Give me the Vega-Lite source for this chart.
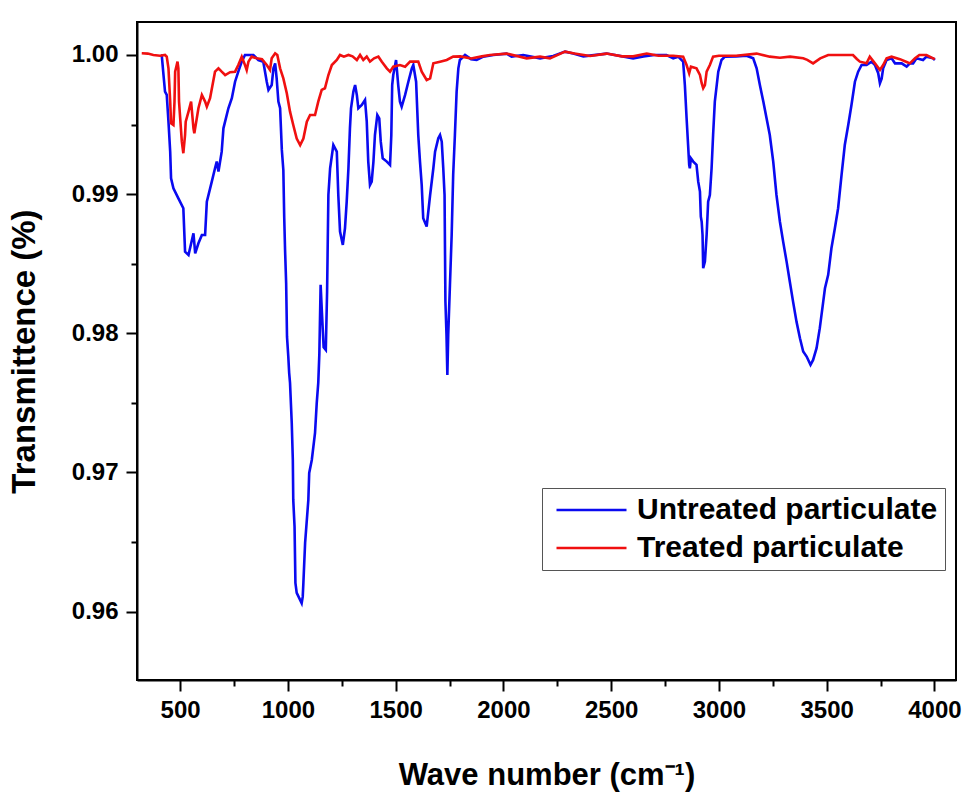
{
  "$schema": "https://vega.github.io/schema/vega-lite/v6.json",
  "width": 819,
  "height": 658,
  "autosize": {"type": "none"},
  "padding": {"left": 137, "top": 22, "right": 9, "bottom": 117},
  "background": "white",
  "config": {
    "view": {"stroke": "black", "strokeWidth": 2},
    "font": "Liberation Sans"
  },
  "data": {"values": [
{"s":"U","wn":410,"tr":1.0000},{"s":"U","wn":415,"tr":0.99995},{"s":"U","wn":423,"tr":0.99856},{"s":"U","wn":430,"tr":0.99737},{"s":"U","wn":438,"tr":0.99713},{"s":"U","wn":446,"tr":0.99521},{"s":"U","wn":454,"tr":0.99305},{"s":"U","wn":458,"tr":0.99114},{"s":"U","wn":469,"tr":0.99042},{"s":"U","wn":492,"tr":0.98970},{"s":"U","wn":515,"tr":0.98899},{"s":"U","wn":523,"tr":0.98587},{"s":"U","wn":539,"tr":0.98563},{"s":"U","wn":562,"tr":0.98719},{"s":"U","wn":570,"tr":0.98575},{"s":"U","wn":585,"tr":0.98647},{"s":"U","wn":601,"tr":0.98707},{"s":"U","wn":616,"tr":0.98707},{"s":"U","wn":624,"tr":0.98946},{"s":"U","wn":647,"tr":0.99090},{"s":"U","wn":662,"tr":0.99186},{"s":"U","wn":670,"tr":0.99234},{"s":"U","wn":678,"tr":0.99162},{"s":"U","wn":693,"tr":0.99305},{"s":"U","wn":701,"tr":0.99473},{"s":"U","wn":724,"tr":0.99617},{"s":"U","wn":740,"tr":0.99689},{"s":"U","wn":755,"tr":0.99808},{"s":"U","wn":770,"tr":0.99880},{"s":"U","wn":786,"tr":0.99952},{"s":"U","wn":801,"tr":1.0000},{"s":"U","wn":840,"tr":1.0000},{"s":"U","wn":863,"tr":0.99964},{"s":"U","wn":886,"tr":0.99952},{"s":"U","wn":902,"tr":0.99808},{"s":"U","wn":910,"tr":0.99749},{"s":"U","wn":925,"tr":0.99784},{"s":"U","wn":933,"tr":0.99904},{"s":"U","wn":941,"tr":0.99940},{"s":"U","wn":948,"tr":0.99832},{"s":"U","wn":956,"tr":0.99665},{"s":"U","wn":964,"tr":0.99617},{"s":"U","wn":972,"tr":0.99318},{"s":"U","wn":979,"tr":0.99174},{"s":"U","wn":983,"tr":0.98838},{"s":"U","wn":987,"tr":0.98599},{"s":"U","wn":992,"tr":0.98362},{"s":"U","wn":996,"tr":0.97976},{"s":"U","wn":1002,"tr":0.97833},{"s":"U","wn":1006,"tr":0.97716},{"s":"U","wn":1010,"tr":0.97644},{"s":"U","wn":1018,"tr":0.97356},{"s":"U","wn":1023,"tr":0.97090},{"s":"U","wn":1025,"tr":0.96803},{"s":"U","wn":1031,"tr":0.96611},{"s":"U","wn":1035,"tr":0.96207},{"s":"U","wn":1041,"tr":0.96135},{"s":"U","wn":1064,"tr":0.96061},{"s":"U","wn":1069,"tr":0.96108},{"s":"U","wn":1072,"tr":0.96207},{"s":"U","wn":1080,"tr":0.96494},{"s":"U","wn":1095,"tr":0.96803},{"s":"U","wn":1099,"tr":0.96997},{"s":"U","wn":1111,"tr":0.97090},{"s":"U","wn":1126,"tr":0.97284},{"s":"U","wn":1134,"tr":0.97500},{"s":"U","wn":1141,"tr":0.97644},{"s":"U","wn":1146,"tr":0.97850},{"s":"U","wn":1152,"tr":0.98348},{"s":"U","wn":1158,"tr":0.98150},{"s":"U","wn":1166,"tr":0.97900},{"s":"U","wn":1176,"tr":0.97881},{"s":"U","wn":1182,"tr":0.98300},{"s":"U","wn":1188,"tr":0.98994},{"s":"U","wn":1196,"tr":0.99186},{"s":"U","wn":1211,"tr":0.99353},{"s":"U","wn":1227,"tr":0.99305},{"s":"U","wn":1234,"tr":0.98994},{"s":"U","wn":1242,"tr":0.98731},{"s":"U","wn":1255,"tr":0.98635},{"s":"U","wn":1265,"tr":0.98755},{"s":"U","wn":1273,"tr":0.98946},{"s":"U","wn":1281,"tr":0.99186},{"s":"U","wn":1288,"tr":0.99473},{"s":"U","wn":1293,"tr":0.99617},{"s":"U","wn":1304,"tr":0.99737},{"s":"U","wn":1312,"tr":0.99784},{"s":"U","wn":1320,"tr":0.99713},{"s":"U","wn":1327,"tr":0.99617},{"s":"U","wn":1343,"tr":0.99641},{"s":"U","wn":1358,"tr":0.99677},{"s":"U","wn":1366,"tr":0.99521},{"s":"U","wn":1373,"tr":0.99234},{"s":"U","wn":1381,"tr":0.99066},{"s":"U","wn":1389,"tr":0.99090},{"s":"U","wn":1397,"tr":0.99234},{"s":"U","wn":1404,"tr":0.99425},{"s":"U","wn":1415,"tr":0.99569},{"s":"U","wn":1424,"tr":0.99545},{"s":"U","wn":1431,"tr":0.99377},{"s":"U","wn":1440,"tr":0.99258},{"s":"U","wn":1459,"tr":0.99234},{"s":"U","wn":1474,"tr":0.99210},{"s":"U","wn":1480,"tr":0.99425},{"s":"U","wn":1484,"tr":0.99784},{"s":"U","wn":1489,"tr":0.99856},{"s":"U","wn":1502,"tr":0.99964},{"s":"U","wn":1512,"tr":0.99784},{"s":"U","wn":1520,"tr":0.99665},{"s":"U","wn":1528,"tr":0.99629},{"s":"U","wn":1544,"tr":0.99713},{"s":"U","wn":1559,"tr":0.99808},{"s":"U","wn":1575,"tr":0.99904},{"s":"U","wn":1582,"tr":0.99928},{"s":"U","wn":1595,"tr":0.99808},{"s":"U","wn":1605,"tr":0.99425},{"s":"U","wn":1613,"tr":0.99234},{"s":"U","wn":1621,"tr":0.99066},{"s":"U","wn":1628,"tr":0.98827},{"s":"U","wn":1644,"tr":0.98767},{"s":"U","wn":1660,"tr":0.98994},{"s":"U","wn":1675,"tr":0.99186},{"s":"U","wn":1683,"tr":0.99305},{"s":"U","wn":1698,"tr":0.99402},{"s":"U","wn":1706,"tr":0.99425},{"s":"U","wn":1714,"tr":0.99377},{"s":"U","wn":1721,"tr":0.99186},{"s":"U","wn":1727,"tr":0.98994},{"s":"U","wn":1731,"tr":0.98228},{"s":"U","wn":1736,"tr":0.97988},{"s":"U","wn":1740,"tr":0.97701},{"s":"U","wn":1744,"tr":0.97988},{"s":"U","wn":1752,"tr":0.98348},{"s":"U","wn":1760,"tr":0.98707},{"s":"U","wn":1767,"tr":0.99138},{"s":"U","wn":1775,"tr":0.99425},{"s":"U","wn":1783,"tr":0.99737},{"s":"U","wn":1791,"tr":0.99904},{"s":"U","wn":1798,"tr":0.99964},{"s":"U","wn":1822,"tr":1.0000},{"s":"U","wn":1850,"tr":0.99970},{"s":"U","wn":1876,"tr":0.99964},{"s":"U","wn":1907,"tr":0.99988},{"s":"U","wn":1953,"tr":1.0000},{"s":"U","wn":2015,"tr":1.0001},{"s":"U","wn":2038,"tr":0.99988},{"s":"U","wn":2092,"tr":1.0000},{"s":"U","wn":2170,"tr":0.99976},{"s":"U","wn":2231,"tr":0.99993},{"s":"U","wn":2286,"tr":1.00024},{"s":"U","wn":2324,"tr":1.00010},{"s":"U","wn":2371,"tr":0.99990},{"s":"U","wn":2479,"tr":1.00010},{"s":"U","wn":2602,"tr":0.99976},{"s":"U","wn":2650,"tr":0.99990},{"s":"U","wn":2700,"tr":1.0000},{"s":"U","wn":2757,"tr":1.0000},{"s":"U","wn":2788,"tr":0.99976},{"s":"U","wn":2811,"tr":0.99988},{"s":"U","wn":2834,"tr":0.99952},{"s":"U","wn":2842,"tr":0.99784},{"s":"U","wn":2850,"tr":0.99545},{"s":"U","wn":2857,"tr":0.99353},{"s":"U","wn":2862,"tr":0.99210},{"s":"U","wn":2865,"tr":0.99186},{"s":"U","wn":2870,"tr":0.99258},{"s":"U","wn":2881,"tr":0.99234},{"s":"U","wn":2896,"tr":0.99210},{"s":"U","wn":2904,"tr":0.99090},{"s":"U","wn":2912,"tr":0.99018},{"s":"U","wn":2916,"tr":0.98838},{"s":"U","wn":2920,"tr":0.98802},{"s":"U","wn":2924,"tr":0.98707},{"s":"U","wn":2927,"tr":0.98468},{"s":"U","wn":2935,"tr":0.98515},{"s":"U","wn":2943,"tr":0.98707},{"s":"U","wn":2950,"tr":0.98946},{"s":"U","wn":2958,"tr":0.98994},{"s":"U","wn":2966,"tr":0.99186},{"s":"U","wn":2973,"tr":0.99425},{"s":"U","wn":2981,"tr":0.99665},{"s":"U","wn":2997,"tr":0.99880},{"s":"U","wn":3012,"tr":0.99964},{"s":"U","wn":3028,"tr":0.99988},{"s":"U","wn":3080,"tr":0.99990},{"s":"U","wn":3128,"tr":0.99995},{"s":"U","wn":3159,"tr":0.99976},{"s":"U","wn":3175,"tr":0.99904},{"s":"U","wn":3190,"tr":0.99784},{"s":"U","wn":3206,"tr":0.99665},{"s":"U","wn":3221,"tr":0.99545},{"s":"U","wn":3236,"tr":0.99425},{"s":"U","wn":3252,"tr":0.99234},{"s":"U","wn":3267,"tr":0.98994},{"s":"U","wn":3283,"tr":0.98802},{"s":"U","wn":3298,"tr":0.98659},{"s":"U","wn":3314,"tr":0.98515},{"s":"U","wn":3329,"tr":0.98371},{"s":"U","wn":3344,"tr":0.98228},{"s":"U","wn":3360,"tr":0.98084},{"s":"U","wn":3376,"tr":0.97965},{"s":"U","wn":3391,"tr":0.97869},{"s":"U","wn":3407,"tr":0.97833},{"s":"U","wn":3425,"tr":0.97773},{"s":"U","wn":3437,"tr":0.97809},{"s":"U","wn":3453,"tr":0.97893},{"s":"U","wn":3468,"tr":0.98037},{"s":"U","wn":3484,"tr":0.98228},{"s":"U","wn":3492,"tr":0.98324},{"s":"U","wn":3507,"tr":0.98420},{"s":"U","wn":3522,"tr":0.98611},{"s":"U","wn":3538,"tr":0.98755},{"s":"U","wn":3553,"tr":0.98899},{"s":"U","wn":3569,"tr":0.99138},{"s":"U","wn":3584,"tr":0.99353},{"s":"U","wn":3600,"tr":0.99497},{"s":"U","wn":3615,"tr":0.99641},{"s":"U","wn":3631,"tr":0.99808},{"s":"U","wn":3646,"tr":0.99880},{"s":"U","wn":3662,"tr":0.99928},{"s":"U","wn":3685,"tr":0.99928},{"s":"U","wn":3708,"tr":0.99952},{"s":"U","wn":3724,"tr":0.99928},{"s":"U","wn":3739,"tr":0.99869},{"s":"U","wn":3747,"tr":0.99797},{"s":"U","wn":3755,"tr":0.99830},{"s":"U","wn":3762,"tr":0.99904},{"s":"U","wn":3778,"tr":0.99964},{"s":"U","wn":3801,"tr":0.99976},{"s":"U","wn":3817,"tr":0.99940},{"s":"U","wn":3848,"tr":0.99940},{"s":"U","wn":3871,"tr":0.99916},{"s":"U","wn":3886,"tr":0.99940},{"s":"U","wn":3901,"tr":0.99940},{"s":"U","wn":3917,"tr":0.99976},{"s":"U","wn":3947,"tr":0.99964},{"s":"U","wn":3963,"tr":0.99988},{"s":"U","wn":3994,"tr":0.99976},{"s":"U","wn":4002,"tr":0.99964},
{"s":"T","wn":322,"tr":1.00012},{"s":"T","wn":350,"tr":1.00010},{"s":"T","wn":376,"tr":1.0000},{"s":"T","wn":407,"tr":0.99995},{"s":"T","wn":430,"tr":1.0000},{"s":"T","wn":438,"tr":0.99988},{"s":"T","wn":446,"tr":0.99904},{"s":"T","wn":454,"tr":0.99665},{"s":"T","wn":458,"tr":0.99509},{"s":"T","wn":469,"tr":0.99497},{"s":"T","wn":474,"tr":0.99665},{"s":"T","wn":477,"tr":0.99880},{"s":"T","wn":488,"tr":0.99952},{"s":"T","wn":492,"tr":0.99904},{"s":"T","wn":495,"tr":0.99665},{"s":"T","wn":508,"tr":0.99377},{"s":"T","wn":515,"tr":0.99294},{"s":"T","wn":523,"tr":0.99425},{"s":"T","wn":526,"tr":0.99521},{"s":"T","wn":539,"tr":0.99593},{"s":"T","wn":551,"tr":0.99665},{"s":"T","wn":562,"tr":0.99473},{"s":"T","wn":566,"tr":0.99437},{"s":"T","wn":585,"tr":0.99617},{"s":"T","wn":601,"tr":0.99713},{"s":"T","wn":616,"tr":0.99665},{"s":"T","wn":624,"tr":0.99629},{"s":"T","wn":639,"tr":0.99689},{"s":"T","wn":662,"tr":0.99880},{"s":"T","wn":678,"tr":0.99904},{"s":"T","wn":693,"tr":0.99880},{"s":"T","wn":709,"tr":0.99856},{"s":"T","wn":732,"tr":0.99876},{"s":"T","wn":755,"tr":0.99880},{"s":"T","wn":770,"tr":0.99928},{"s":"T","wn":786,"tr":0.99988},{"s":"T","wn":801,"tr":0.99928},{"s":"T","wn":809,"tr":0.99892},{"s":"T","wn":817,"tr":0.99952},{"s":"T","wn":832,"tr":0.99988},{"s":"T","wn":856,"tr":0.99976},{"s":"T","wn":880,"tr":0.99970},{"s":"T","wn":902,"tr":0.99928},{"s":"T","wn":917,"tr":0.99892},{"s":"T","wn":925,"tr":0.99976},{"s":"T","wn":941,"tr":1.00012},{"s":"T","wn":951,"tr":1.0000},{"s":"T","wn":964,"tr":0.99904},{"s":"T","wn":979,"tr":0.99832},{"s":"T","wn":995,"tr":0.99725},{"s":"T","wn":1010,"tr":0.99593},{"s":"T","wn":1025,"tr":0.99497},{"s":"T","wn":1041,"tr":0.99400},{"s":"T","wn":1057,"tr":0.99353},{"s":"T","wn":1072,"tr":0.99400},{"s":"T","wn":1088,"tr":0.99521},{"s":"T","wn":1103,"tr":0.99569},{"s":"T","wn":1126,"tr":0.99569},{"s":"T","wn":1141,"tr":0.99665},{"s":"T","wn":1157,"tr":0.99749},{"s":"T","wn":1172,"tr":0.99761},{"s":"T","wn":1188,"tr":0.99856},{"s":"T","wn":1204,"tr":0.99928},{"s":"T","wn":1227,"tr":0.99964},{"s":"T","wn":1242,"tr":1.0000},{"s":"T","wn":1260,"tr":0.99988},{"s":"T","wn":1281,"tr":1.0000},{"s":"T","wn":1300,"tr":0.99990},{"s":"T","wn":1320,"tr":0.99964},{"s":"T","wn":1335,"tr":1.0000},{"s":"T","wn":1350,"tr":0.99964},{"s":"T","wn":1366,"tr":0.99988},{"s":"T","wn":1381,"tr":0.99952},{"s":"T","wn":1400,"tr":0.99976},{"s":"T","wn":1420,"tr":0.99988},{"s":"T","wn":1436,"tr":0.99952},{"s":"T","wn":1459,"tr":0.99904},{"s":"T","wn":1474,"tr":0.99880},{"s":"T","wn":1489,"tr":0.99916},{"s":"T","wn":1520,"tr":0.99928},{"s":"T","wn":1544,"tr":0.99916},{"s":"T","wn":1567,"tr":0.99952},{"s":"T","wn":1605,"tr":0.99952},{"s":"T","wn":1621,"tr":0.99880},{"s":"T","wn":1644,"tr":0.99820},{"s":"T","wn":1660,"tr":0.99832},{"s":"T","wn":1675,"tr":0.99940},{"s":"T","wn":1706,"tr":0.99952},{"s":"T","wn":1737,"tr":0.99964},{"s":"T","wn":1767,"tr":0.99988},{"s":"T","wn":1800,"tr":0.99990},{"s":"T","wn":1850,"tr":0.99975},{"s":"T","wn":1900,"tr":0.99990},{"s":"T","wn":1938,"tr":1.0000},{"s":"T","wn":2015,"tr":1.0001},{"s":"T","wn":2108,"tr":0.99976},{"s":"T","wn":2170,"tr":0.99988},{"s":"T","wn":2216,"tr":0.99976},{"s":"T","wn":2286,"tr":1.00024},{"s":"T","wn":2330,"tr":1.0001},{"s":"T","wn":2402,"tr":0.99993},{"s":"T","wn":2479,"tr":1.0001},{"s":"T","wn":2550,"tr":0.99990},{"s":"T","wn":2602,"tr":0.99990},{"s":"T","wn":2665,"tr":1.0001},{"s":"T","wn":2720,"tr":0.99995},{"s":"T","wn":2788,"tr":0.99995},{"s":"T","wn":2834,"tr":0.99988},{"s":"T","wn":2850,"tr":0.99928},{"s":"T","wn":2862,"tr":0.99869},{"s":"T","wn":2870,"tr":0.99916},{"s":"T","wn":2896,"tr":0.99904},{"s":"T","wn":2912,"tr":0.99856},{"s":"T","wn":2920,"tr":0.99797},{"s":"T","wn":2927,"tr":0.99761},{"s":"T","wn":2935,"tr":0.99784},{"s":"T","wn":2943,"tr":0.99880},{"s":"T","wn":2958,"tr":0.99928},{"s":"T","wn":2973,"tr":0.99988},{"s":"T","wn":3000,"tr":0.99995},{"s":"T","wn":3080,"tr":0.99995},{"s":"T","wn":3175,"tr":1.0001},{"s":"T","wn":3236,"tr":0.99988},{"s":"T","wn":3283,"tr":0.99980},{"s":"T","wn":3330,"tr":0.99988},{"s":"T","wn":3391,"tr":0.99976},{"s":"T","wn":3410,"tr":0.99965},{"s":"T","wn":3437,"tr":0.99940},{"s":"T","wn":3470,"tr":0.99976},{"s":"T","wn":3507,"tr":1.0000},{"s":"T","wn":3550,"tr":1.0000},{"s":"T","wn":3622,"tr":1.0000},{"s":"T","wn":3640,"tr":0.99971},{"s":"T","wn":3654,"tr":0.99952},{"s":"T","wn":3685,"tr":0.99940},{"s":"T","wn":3700,"tr":0.99988},{"s":"T","wn":3724,"tr":0.99940},{"s":"T","wn":3747,"tr":0.99892},{"s":"T","wn":3762,"tr":0.99928},{"s":"T","wn":3778,"tr":0.99976},{"s":"T","wn":3801,"tr":0.99988},{"s":"T","wn":3840,"tr":0.99970},{"s":"T","wn":3871,"tr":0.99950},{"s":"T","wn":3886,"tr":0.99940},{"s":"T","wn":3910,"tr":0.99976},{"s":"T","wn":3930,"tr":1.0000},{"s":"T","wn":3963,"tr":1.0000},{"s":"T","wn":3994,"tr":0.99976},{"s":"T","wn":4002,"tr":0.99970}
  ]},
  "mark": {"type": "line", "strokeWidth": 2.6, "clip": true},
  "encoding": {
    "x": {
      "field": "wn", "type": "quantitative",
      "scale": {"domain": [300, 4100], "nice": false, "zero": false},
      "axis": {
        "title": "Wave number (cm⁻¹)",
        "values": [500,750,1000,1250,1500,1750,2000,2250,2500,2750,3000,3250,3500,3750,4000],
        "format": "d",
        "labelExpr": "datum.value % 500 === 0 ? datum.label : ''",
        "grid": false,
        "domainColor": "black", "domainWidth": 2,
        "tickColor": "black", "tickWidth": 2,
        "tickSize": {"condition": {"test": "datum.value % 500 !== 0", "value": 6}, "value": 11},
        "labelFont": "Liberation Sans",
        "labelFontWeight": "bold", "labelFontSize": 24, "labelColor": "black",
        "labelPadding": 7,
        "titleFont": "Liberation Sans",
        "titleFontWeight": "bold", "titleFontSize": 31, "titleColor": "black",
        "titlePadding": 38
      }
    },
    "y": {
      "field": "tr", "type": "quantitative",
      "scale": {"domain": [0.95509, 1.00237], "nice": false, "zero": false},
      "axis": {
        "title": "Transmittence (%)",
        "values": [0.96,0.965,0.97,0.975,0.98,0.985,0.99,0.995,1.0],
        "format": ".2f",
        "labelExpr": "abs(datum.value*100 - round(datum.value*100)) < 0.01 ? datum.label : ''",
        "grid": false,
        "domainColor": "black", "domainWidth": 2,
        "tickColor": "black", "tickWidth": 2,
        "tickSize": {"condition": {"test": "abs(datum.value*100 - round(datum.value*100)) > 0.01", "value": 6}, "value": 11},
        "labelFontWeight": "bold", "labelFontSize": 24, "labelColor": "black",
        "labelPadding": 8,
        "titleFontWeight": "bold", "titleFontSize": 33, "titleColor": "black",
        "titlePadding": 30
      }
    },
    "color": {
      "field": "s", "type": "nominal",
      "scale": {"domain": ["U", "T"], "range": ["#0a0af0", "#f01010"]},
      "legend": {
        "title": null,
        "orient": "none",
        "legendX": 405,
        "legendY": 466,
        "direction": "vertical",
        "labelExpr": "datum.label === 'U' ? 'Untreated particulate' : 'Treated particulate'",
        "symbolType": "stroke",
        "symbolSize": 4900,
        "symbolStrokeWidth": 2.6,
        "symbolOffset": 6,
        "labelOffset": 9,
        "labelFontSize": 30,
        "labelFontWeight": "bold",
        "labelColor": "black",
        "labelLimit": 400,
        "clipHeight": 30,
        "rowPadding": 8,
        "padding": 7,
        "strokeColor": "#555555",
        "fillColor": "white"
      }
    }
  }
}
